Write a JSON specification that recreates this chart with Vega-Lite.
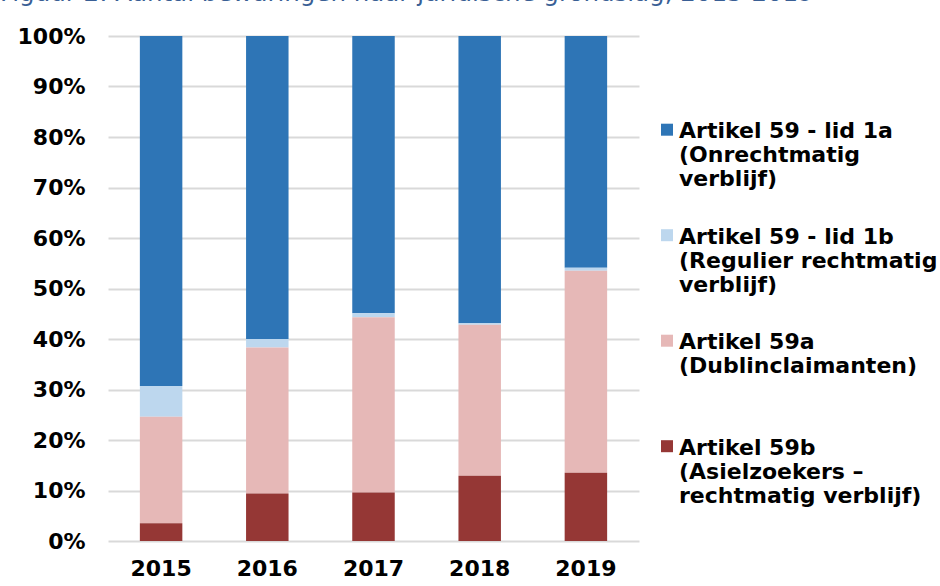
{
  "$schema": "https://vega.github.io/schema/vega-lite/v6.json",
  "width": 531,
  "height": 505,
  "autosize": {"type": "none"},
  "padding": {"left": 108, "top": 36, "right": 301, "bottom": 45},
  "background": "white",
  "title": {
    "text": "Figuur 2: Aantal bewaringen naar juridische grondslag, 2015-2019",
    "anchor": "start",
    "frame": "group",
    "orient": "top",
    "font": "DejaVu Sans",
    "fontSize": 24.5,
    "fontWeight": "normal",
    "color": "#3A5F95",
    "baseline": "alphabetic",
    "offset": 0,
    "dx": -108,
    "dy": 0
  },
  "data": {
    "values": [
      {"year": "2015", "cat": "Artikel 59 - lid 1a (Onrechtmatig verblijf)", "pct": 69.3},
      {"year": "2015", "cat": "Artikel 59 - lid 1b (Regulier rechtmatig verblijf)", "pct": 6.1},
      {"year": "2015", "cat": "Artikel 59a (Dublinclaimanten)", "pct": 21.1},
      {"year": "2015", "cat": "Artikel 59b (Asielzoekers – rechtmatig verblijf)", "pct": 3.5},
      {"year": "2016", "cat": "Artikel 59 - lid 1a (Onrechtmatig verblijf)", "pct": 60.0},
      {"year": "2016", "cat": "Artikel 59 - lid 1b (Regulier rechtmatig verblijf)", "pct": 1.7},
      {"year": "2016", "cat": "Artikel 59a (Dublinclaimanten)", "pct": 28.9},
      {"year": "2016", "cat": "Artikel 59b (Asielzoekers – rechtmatig verblijf)", "pct": 9.4},
      {"year": "2017", "cat": "Artikel 59 - lid 1a (Onrechtmatig verblijf)", "pct": 54.9},
      {"year": "2017", "cat": "Artikel 59 - lid 1b (Regulier rechtmatig verblijf)", "pct": 0.8},
      {"year": "2017", "cat": "Artikel 59a (Dublinclaimanten)", "pct": 34.7},
      {"year": "2017", "cat": "Artikel 59b (Asielzoekers – rechtmatig verblijf)", "pct": 9.6},
      {"year": "2018", "cat": "Artikel 59 - lid 1a (Onrechtmatig verblijf)", "pct": 56.9},
      {"year": "2018", "cat": "Artikel 59 - lid 1b (Regulier rechtmatig verblijf)", "pct": 0.3},
      {"year": "2018", "cat": "Artikel 59a (Dublinclaimanten)", "pct": 29.9},
      {"year": "2018", "cat": "Artikel 59b (Asielzoekers – rechtmatig verblijf)", "pct": 12.9},
      {"year": "2019", "cat": "Artikel 59 - lid 1a (Onrechtmatig verblijf)", "pct": 45.9},
      {"year": "2019", "cat": "Artikel 59 - lid 1b (Regulier rechtmatig verblijf)", "pct": 0.6},
      {"year": "2019", "cat": "Artikel 59a (Dublinclaimanten)", "pct": 40.0},
      {"year": "2019", "cat": "Artikel 59b (Asielzoekers – rechtmatig verblijf)", "pct": 13.5}
    ]
  },
  "mark": {"type": "bar"},
  "encoding": {
    "x": {
      "field": "year",
      "type": "ordinal",
      "scale": {"paddingInner": 0.6, "paddingOuter": 0.3},
      "axis": {
        "title": null,
        "labelAngle": 0,
        "ticks": false,
        "domain": false,
        "labelPadding": 17,
        "labelFont": "DejaVu Sans",
        "labelFontSize": 22,
        "labelFontWeight": "bold",
        "labelColor": "#000000"
      }
    },
    "y": {
      "field": "pct",
      "type": "quantitative",
      "stack": "normalize",
      "scale": {"domain": [0, 1]},
      "axis": {
        "title": null,
        "values": [0, 0.1, 0.2, 0.3, 0.4, 0.5, 0.6, 0.7, 0.8, 0.9, 1],
        "format": ".0%",
        "domain": false,
        "ticks": false,
        "labelPadding": 23,
        "labelFont": "DejaVu Sans",
        "labelFontSize": 22,
        "labelFontWeight": "bold",
        "labelColor": "#000000",
        "gridColor": "#D9D9D9",
        "gridWidth": 2
      }
    },
    "order": {"field": "cat", "sort": "descending"},
    "color": {
      "field": "cat",
      "type": "nominal",
      "scale": {
        "domain": [
          "Artikel 59 - lid 1a (Onrechtmatig verblijf)",
          "Artikel 59 - lid 1b (Regulier rechtmatig verblijf)",
          "Artikel 59a (Dublinclaimanten)",
          "Artikel 59b (Asielzoekers – rechtmatig verblijf)"
        ],
        "range": ["#2E75B6", "#BDD7EE", "#E6B8B7", "#953735"]
      },
      "legend": {
        "title": null,
        "orient": "none",
        "legendX": 548,
        "legendY": 74,
        "direction": "vertical",
        "padding": 0,
        "symbolType": "M-1,0.45H1V2.45H-1Z",
        "symbolSize": 144,
        "symbolStrokeWidth": 0,
        "labelFont": "DejaVu Sans",
        "labelFontSize": 22,
        "labelFontWeight": "bold",
        "labelColor": "#000000",
        "labelBaseline": "top",
        "labelLineHeight": 27,
        "labelLimit": 400,
        "labelOffset": 1,
        "rowPadding": 25.5,
        "labelExpr": "datum.label == 'Artikel 59 - lid 1a (Onrechtmatig verblijf)' ? ['Artikel 59 - lid 1a', '(Onrechtmatig', 'verblijf)'] : datum.label == 'Artikel 59 - lid 1b (Regulier rechtmatig verblijf)' ? ['Artikel 59 - lid 1b', '(Regulier rechtmatig', 'verblijf)'] : datum.label == 'Artikel 59a (Dublinclaimanten)' ? ['Artikel 59a', '(Dublinclaimanten)', ' '] : ['Artikel 59b', '(Asielzoekers –', 'rechtmatig verblijf)']"
      }
    }
  },
  "config": {
    "view": {"stroke": null}
  }
}
